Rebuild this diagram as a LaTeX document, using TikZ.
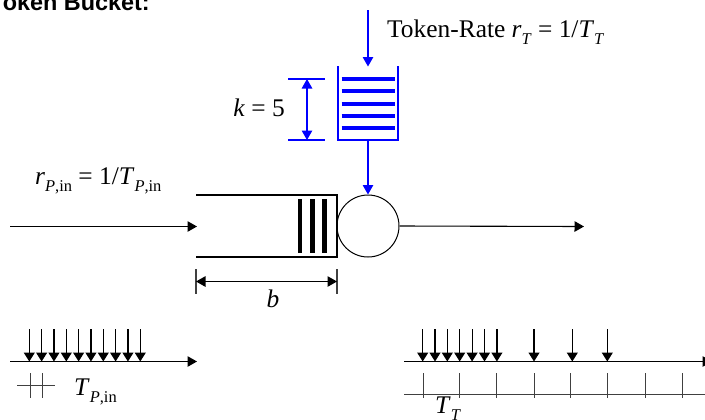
\documentclass[tikz,border=0pt]{standalone}
\usepackage{fontspec}
\setmainfont{Liberation Serif}
\newfontfamily\titlefont{Liberation Sans}
\usetikzlibrary{arrows.meta}
\newcommand\subs[1]{\raisebox{-0.3em}{\fontsize{16.5}{17}\selectfont #1}}
\begin{document}
\begin{tikzpicture}[x=1bp,y=-1bp,
  txt/.style={inner sep=0pt,font=\fontsize{25.5}{29}\selectfont},
  thin/.style={line width=1.1bp},
  blk/.style={thin,-{Triangle[length=9.5bp,width=10.5bp]}},
  blu/.style={thin,draw=blue,-{Triangle[length=9.5bp,width=10.5bp]}},
  dimblu/.style={thin,draw=blue,{Triangle[length=9.5bp,width=10.5bp]}-{Triangle[length=9.5bp,width=10.5bp]}},
  dimblk/.style={thin,{Triangle[length=9.5bp,width=10.5bp]}-{Triangle[length=9.5bp,width=10.5bp]}},
  token/.style={line width=4bp,draw=blue},
  packet/.style={line width=4.5bp},
  tickln/.style={line width=0.9bp,draw=black!75},
  tarrow/.style={line width=1.2bp,-{Triangle[length=9bp,width=11bp]}}]
\useasboundingbox (0,0) rectangle (705,419);

% title
\node[inner sep=0pt,anchor=base west,font=\titlefont\bfseries\fontsize{23.5}{26}\selectfont] (title) at (-10,10) {Token Bucket:};

% token rate
\coordinate (tsrc) at (368,10);
\coordinate (btop) at (368,66.5);
\coordinate (bbot) at (368,140);
\draw[blu] (tsrc) -- (btop);
\node[txt,anchor=base west] (trate) at (387,37) {Token-Rate \textit{r}\subs{\textit{T}} = 1/\textit{T}\subs{\textit{T}}};

% bucket
\draw[thin,draw=blue] (338,66) -- (338,140) -- (398,140) -- (398,66);
\foreach \y in {79,91.3,103.5,115.8,128}
  \draw[token] (341.5,\y) -- (395,\y);

% k = 5
\coordinate (kt) at (307,79);
\coordinate (kb) at (307,140);
\draw[thin,draw=blue] (288,79) -- (325,79);
\draw[thin,draw=blue] (288,140) -- (325,140);
\draw[dimblu] (kt) -- (kb);
\node[txt,anchor=base east] (k) at (285,116) {\textit{k} = 5};

% server
\node[circle,draw,line width=1bp,minimum size=62bp,inner sep=0pt] (srv) at (368,226) {};
\draw[blu] (bbot) -- (srv.north);

% queue
\draw[thin] (196,195) -- (337,195) -- (337,257) -- (196,257);
\foreach \x in {300,312.3,324.5}
  \draw[packet] (\x,199) -- (\x,252.5);

% input / output
\coordinate (in0) at (10,226.5);
\coordinate (qin) at (197,226.5);
\coordinate (out) at (584,226.5);
\draw[blk] (in0) -- (qin);
\draw[blk] (srv.east) -- (out);
\node[txt,anchor=base west] (rin) at (35,184) {\textit{r}\subs{\textit{P},in} = 1/\textit{T}\subs{\textit{P},in}};

% b dimension
\draw[thin,draw=black!75] (196,269) -- (196,294);
\draw[thin,draw=black!75] (337,269) -- (337,294);
\coordinate (bl) at (196,281.5);
\coordinate (br) at (337,281.5);
\draw[dimblk] (bl) -- (br);
\node[txt,anchor=base] (b) at (273,307) {\textit{b}};

% bottom left timeline
\coordinate (tl0) at (10,361.5);
\coordinate (tl1) at (197,361.5);
\draw[blk] (tl0) -- (tl1);
\foreach \i in {0,...,9}
  \draw[tarrow] ({29.3+12.33*\i},329) -- ({29.3+12.33*\i},361.5);
\draw[tickln] (17,385.5) -- (55,385.5);
\draw[tickln] (30,373) -- (30,398);
\draw[tickln] (42.3,373) -- (42.3,398);
\node[txt,anchor=base west] (tpin) at (74,395) {\textit{T}\subs{\textit{P},in}};

% bottom right timeline
\coordinate (tr0) at (404,361.5);
\coordinate (tr1) at (712,361.5);
\draw[blk] (tr0) -- (tr1);
\foreach \x in {422.7,435,447.3,459.7,472.1,484.5,496.9,534,572.3,607.3}
  \draw[tarrow] (\x,329) -- (\x,361.5);
\draw[tickln] (404,394) -- (705,394);
\foreach \x in {423.3,459.9,496.9,534,570.7,607.3,645,682.3}
  \draw[tickln] (\x,373) -- (\x,398);
\node[txt,anchor=base west] (tt) at (435,413) {\textit{T}\subs{\textit{T}}};
\end{tikzpicture}
\end{document}
